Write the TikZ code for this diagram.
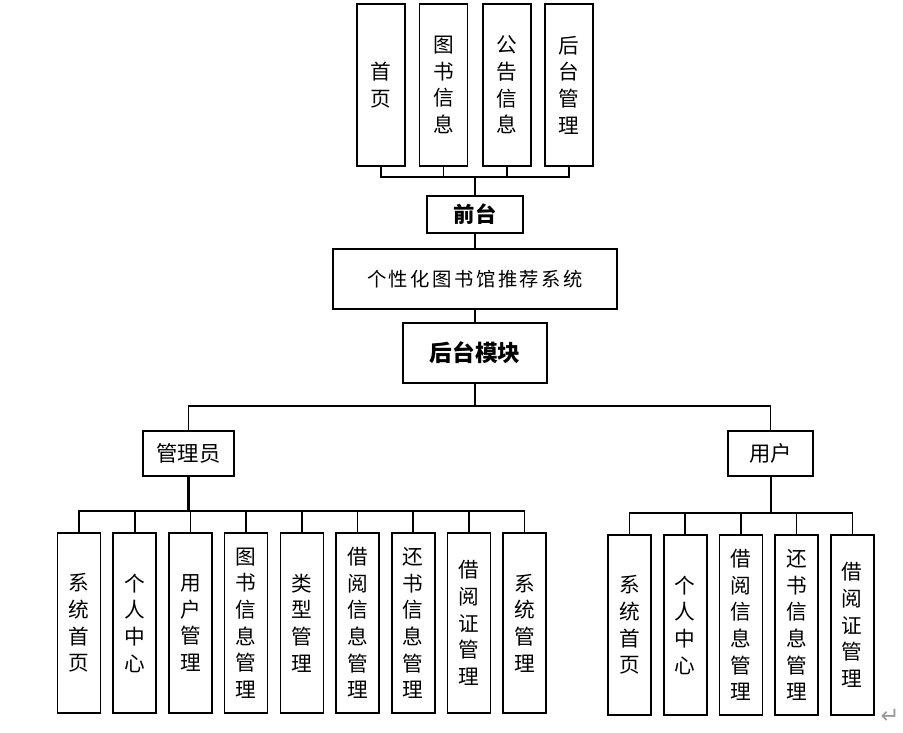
\documentclass[tikz,border=0pt]{standalone}
\usepackage{fontspec}
\setmainfont{Noto Sans CJK SC}
\newfontfamily\spacedcjk[LetterSpace=13]{Noto Sans CJK SC}
\newfontfamily\symfont{DejaVu Sans}
\begin{document}
\begin{tikzpicture}[x=0.75pt,y=-0.75pt,
  box/.style={draw,line width=1.2pt,inner sep=0pt,fill=white},
  vbox/.style={box,minimum width=32.25pt,minimum height=135pt,align=center,font=\fontsize{15.5}{20}\selectfont},
  topbox/.style={box,minimum width=36pt,minimum height=121.5pt,align=center,font=\fontsize{15.5}{20}\selectfont},
  link/.style={line width=1.2pt}]
\useasboundingbox (0,0) rectangle (903,732);
% top row
\node[topbox] (t1) at (381,85) {首\\页};
\node[topbox] (t2) at (443.5,85) {图\\书\\信\\息};
\node[topbox] (t3) at (507,85) {公\\告\\信\\息};
\node[topbox] (t4) at (569,85) {后\\台\\管\\理};
\node[box,minimum width=72pt,minimum height=27.75pt,font=\fontsize{16}{18}\selectfont\bfseries] (qt) at (475,214.5) {前台};
\node[box,minimum width=213pt,minimum height=45pt,font=\fontsize{14.5}{17}\spacedcjk] (sys) at (475,279) {个性化图书馆推荐系统};
\node[box,minimum width=108pt,minimum height=45pt,font=\fontsize{17}{19}\selectfont\bfseries] (ht) at (475,353) {后台模块};
\node[box,minimum width=68.25pt,minimum height=33.75pt,font=\fontsize{16}{18}\selectfont] (adm) at (188.5,453.5) {管理员};
\node[box,minimum width=63.75pt,minimum height=33.75pt,font=\fontsize{16}{18}\selectfont] (usr) at (770.5,453.5) {用户};
% admin children
\node[vbox] (a1) at (79,623) {系\\统\\首\\页};
\node[vbox] (a2) at (134.7,623) {个\\人\\中\\心};
\node[vbox] (a3) at (190.4,623) {用\\户\\管\\理};
\node[vbox] (a4) at (246.1,623) {图\\书\\信\\息\\管\\理};
\node[vbox] (a5) at (301.8,623) {类\\型\\管\\理};
\node[vbox] (a6) at (357.5,623) {借\\阅\\信\\息\\管\\理};
\node[vbox] (a7) at (413.2,623) {还\\书\\信\\息\\管\\理};
\node[vbox] (a8) at (468.9,623) {借\\阅\\证\\管\\理};
\node[vbox] (a9) at (524.6,623) {系\\统\\管\\理};
% user children
\node[vbox] (u1) at (629.5,625) {系\\统\\首\\页};
\node[vbox] (u2) at (685.2,625) {个\\人\\中\\心};
\node[vbox] (u3) at (740.9,625) {借\\阅\\信\\息\\管\\理};
\node[vbox] (u4) at (796.6,625) {还\\书\\信\\息\\管\\理};
\node[vbox] (u5) at (852.3,625) {借\\阅\\证\\管\\理};
% paragraph mark
\node[inner sep=0pt,text=black!40,font=\fontsize{17}{18}\symfont] (pm) at (890,716) {↵};
% connectors top
\coordinate (tb) at (475,177);
\foreach \n in {t1,t2,t3,t4} \draw[link] (\n.south) |- (tb);
\draw[link] (tb) -- (qt.north);
\draw[link] (qt.south) -- (sys.north);
\draw[link] (sys.south) -- (ht.north);
\coordinate (mb) at (475,406);
\draw[link] (ht.south) -- (mb);
\draw[link] (adm.north) |- (mb) -| (usr.north);
% admin bus
\coordinate (ab) at (188.5,511);
\draw[line width=1.7pt] (adm.south) -- (ab);
\foreach \n in {a1,a2,a3,a4,a5,a6,a7,a8,a9} \draw[link] (\n.north) |- (ab);
% user bus
\coordinate (ub) at (770.5,513);
\draw[line width=1.5pt] (usr.south) -- (ub);
\foreach \n in {u1,u2,u3,u4,u5} \draw[link] (\n.north) |- (ub);
\end{tikzpicture}
\end{document}
